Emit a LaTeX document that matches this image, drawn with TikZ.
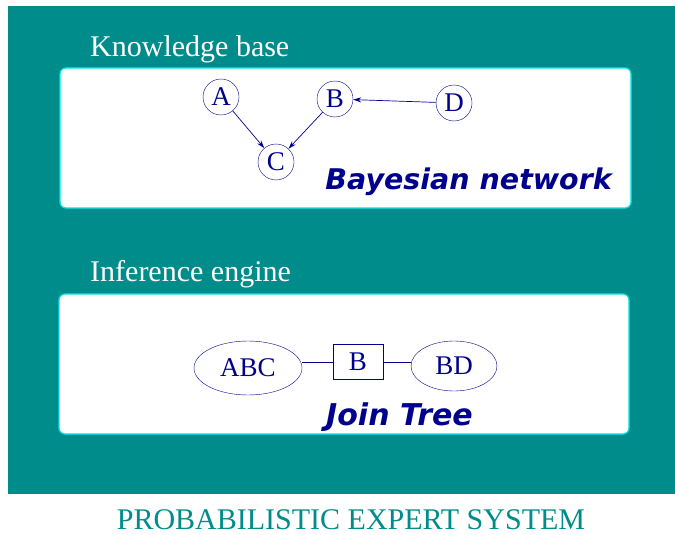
\documentclass[tikz,border=0pt]{standalone}
\usepackage{fontspec}
\setmainfont{Liberation Serif}
\newfontfamily\bfit{DejaVu Sans}
\usetikzlibrary{shapes.geometric,arrows.meta}
\definecolor{teal1}{RGB}{0,140,138}
\definecolor{navy1}{RGB}{0,0,140}
\definecolor{cyan1}{RGB}{0,230,230}
\begin{document}
\begin{tikzpicture}[x=1pt,y=-1pt,
  panel/.style={draw=cyan1,line width=1.2pt,fill=white,rounded corners=6pt},
  cnode/.style={circle,draw=navy1,text=navy1,minimum size=36pt,inner sep=0pt,font=\fontsize{27}{27}\selectfont},
  enode/.style={ellipse,draw=navy1,text=navy1,inner sep=0pt,font=\fontsize{27}{27}\selectfont},
  snode/.style={rectangle,draw=navy1,text=navy1,inner sep=0pt,font=\fontsize{27}{27}\selectfont},
  conn/.style={draw=navy1,line width=0.7pt},
  arr/.style={conn,-{Stealth[length=8pt,width=5pt]}},
  title/.style={text=white,anchor=base west,inner sep=0pt,font=\fontsize{30}{30}\selectfont},
  tag/.style={text=navy1,inner sep=0pt,font=\fontsize{28.5}{28.5}\selectfont\bfit\bfseries\itshape}]
\useasboundingbox (0,0) rectangle (675,535);
\fill[teal1] (8,6) rectangle (675,494);
\node[title] (kb) at (90,57) {Knowledge base};
\draw[panel] (60,68) rectangle (631,208);
\node[title] (ie) at (90,281) {Inference engine};
\draw[panel] (59,294) rectangle (629,434);
\node[cnode] (A) at (221,97) {A};
\node[cnode] (B) at (335,99) {B};
\node[cnode] (D) at (454,103) {D};
\node[cnode] (C) at (276,162) {C};
\draw[arr] (A) -- (C);
\draw[arr] (B) -- (C);
\draw[arr] (D) -- (B);
\node[tag,anchor=east] (bn) at (612,182) {Bayesian network};
\node[enode,minimum width=108pt,minimum height=54pt] (abc) at (248,368) {ABC};
\node[snode,minimum width=50pt,minimum height=35pt] (sep) at (358,362) {B};
\node[enode,minimum width=86pt,minimum height=50pt] (bd) at (454,366) {BD};
\draw[conn] (sep.west) -- (abc.east |- sep.west);
\draw[conn] (sep.east) -- (bd.west |- sep.east);
\node[tag,anchor=west,font=\fontsize{30}{30}\selectfont\bfit\bfseries\itshape] (jt) at (326,417) {Join Tree};
\node[text=teal1,inner sep=0pt,anchor=base,font=\fontsize{30}{30}\selectfont] (pes) at (351,529) {PROBABILISTIC EXPERT SYSTEM};
\end{tikzpicture}
\end{document}
